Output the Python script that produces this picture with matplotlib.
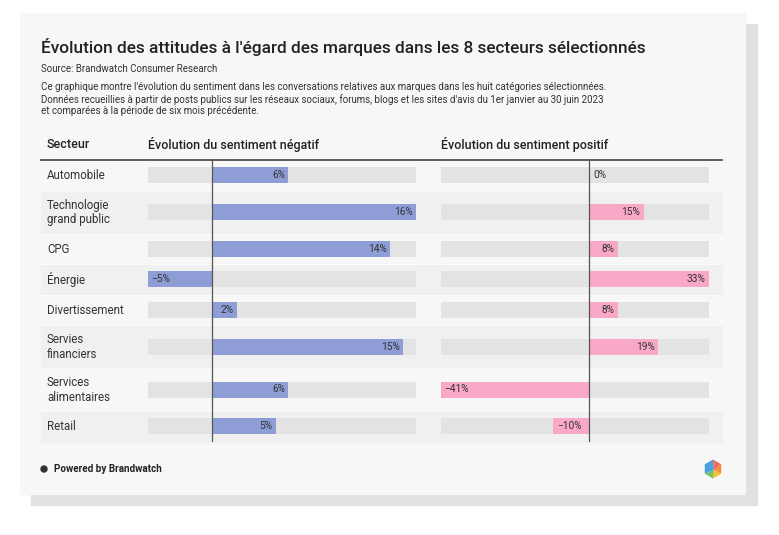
import matplotlib
matplotlib.use("Agg")
import matplotlib.pyplot as plt
from matplotlib.patches import Rectangle, Polygon, Circle
import numpy as np

plt.rcParams['font.family'] = ['Roboto', 'DejaVu Sans']

# data
sectors = ["Automobile", "Technologie\ngrand public", "CPG", "Énergie", "Divertissement",
           "Servies\nfinanciers", "Services\nalimentaires", "Retail"]
negative_change = [6, 16, 14, -5, 2, 15, 6, 5]
positive_change = [0, 15, 8, 33, 8, 19, -41, -10]

title = "Évolution des attitudes à l'égard des marques dans les 8 secteurs sélectionnés"
source = "Source: Brandwatch Consumer Research"
description = ("Ce graphique montre l'évolution du sentiment dans les conversations relatives aux marques dans les huit catégories sélectionnées.\n"
               "Données recueillies à partir de posts publics sur les réseaux sociaux, forums, blogs et les sites d'avis du 1er janvier au 30 juin 2023\n"
               "et comparées à la période de six mois précédente.")
headers = ["Secteur", "Évolution du sentiment négatif", "Évolution du sentiment positif"]

W, H = 779, 535
fig = plt.figure(figsize=(W / 100, H / 100), dpi=100)
fig.patch.set_facecolor("white")

# background axes in pixel units
bg = fig.add_axes([0, 0, 1, 1])
bg.set_xlim(0, W)
bg.set_ylim(H, 0)
bg.axis("off")

def px(x, y, w, h):
    '''pixel box -> figure fraction box'''
    return [x / W, 1 - (y + h) / H, w / W, h / H]

# card + shadow
bg.add_patch(Rectangle((31, 24), 726, 481, color="#e1e1e1", zorder=0))
bg.add_patch(Rectangle((20, 13), 725, 481, color="#f7f7f7", zorder=1))

bg.text(41, 47, title, fontsize=12.4, fontweight="medium", color="#222222", va="center", zorder=3)
bg.text(41, 69, source, fontsize=7.0, color="#333333", va="center", zorder=3)
bg.text(41, 99, description, fontsize=7.0, color="#333333", va="center", linespacing=1.2, zorder=3)

bg.text(47, 145, headers[0], fontsize=9.0, fontweight="medium", color="#222222", va="center", zorder=3)
bg.text(148, 145, headers[1], fontsize=9.0, fontweight="medium", color="#222222", va="center", zorder=3)
bg.text(441, 145, headers[2], fontsize=9.0, fontweight="medium", color="#222222", va="center", zorder=3)

# table rows
top, left, right = 160, 41, 722
row_h = [43 if "\n" in s else 30.5 for s in sectors]
edges = np.concatenate([[0], np.cumsum(row_h)])
centers = (edges[:-1] + edges[1:]) / 2
total = edges[-1]

for i, s in enumerate(sectors):
    y0 = top + edges[i]
    if i % 2 == 1:
        bg.add_patch(Rectangle((left, y0), right - left, row_h[i], color="#f0f0f0", zorder=2))
    if i > 0:
        bg.plot([left, right], [y0, y0], color="#fbfbfb", lw=0.8, zorder=2.5)
    bg.text(47, top + centers[i] + 0.5, s, fontsize=8.3, color="#333333", va="center",
            linespacing=1.2, zorder=3)

bg.plot([left, right], [top, top], color="#444444", lw=1.2, zorder=3)


def bar_column(x0, x1, values, color):
    ax = fig.add_axes(px(x0, top, x1 - x0, total))
    lo, hi = min(min(values), 0), max(max(values), 0)
    ax.set_xlim(lo, hi)
    ax.set_ylim(total, 0)
    ax.axis("off")
    ax.patch.set_alpha(0)
    ax.barh(centers, hi - lo, left=lo, height=16, color="#e3e3e3", zorder=1)
    ax.barh(centers, values, height=16, color=color, zorder=2)
    ax.axvline(0, color="#555555", lw=0.9, zorder=3)
    for c, v in zip(centers, values):
        if v > 0:
            ax.annotate(f"{v}%", (v, c), xytext=(-2.5, 0), textcoords="offset points",
                        ha="right", va="center", fontsize=7.3, color="#333333", zorder=4)
        else:
            ax.annotate(f"{v}%".replace("-", "\u2212"), (v, c), xytext=(2.5, 0),
                        textcoords="offset points",
                        ha="left", va="center", fontsize=7.3, color="#333333", zorder=4)
    return ax

bar_column(148, 416, negative_change, "#8e9dd6")
bar_column(441, 709, positive_change, "#f9a8c7")

# footer
bg.add_patch(Circle((44, 469), 3, color="#333333", zorder=3))
bg.text(54, 469, "Powered by Brandwatch", fontsize=7.1, fontweight="bold", color="#222222",
        va="center", zorder=3)

# logo hexagon
cx, cy, r = 713, 469, 9.5
ang = np.deg2rad(np.arange(-90, 270, 60))
hx, hy = cx + r * np.cos(ang), cy + r * np.sin(ang)
pts = list(zip(hx, hy))
c = (cx + 1, cy + 1)
segs = [([pts[4], pts[5], pts[0], c], "#4aa3df"),
        ([pts[0], pts[1], c], "#ef6b5b"),
        ([pts[1], pts[2], c], "#f58a3a"),
        ([pts[2], pts[3], c], "#f5c232"),
        ([pts[3], pts[4], c], "#7cc35f")]
for p, col in segs:
    bg.add_patch(Polygon(p, closed=True, color=col, zorder=3, lw=0))

fig.savefig("out.png", dpi=100, facecolor="white")
